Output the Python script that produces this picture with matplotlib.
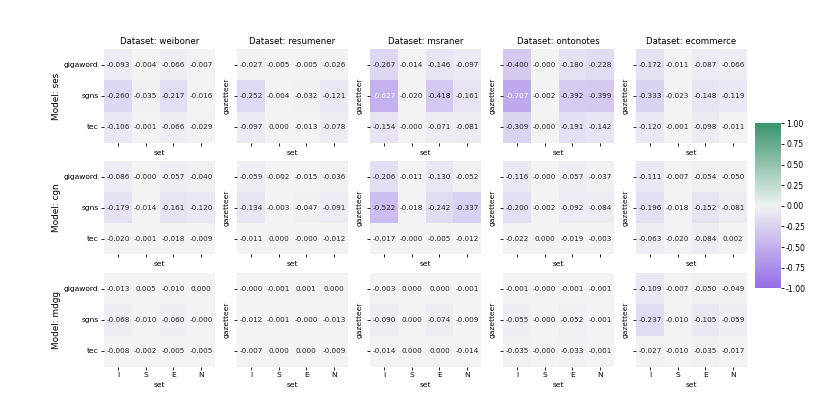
import numpy as np
import matplotlib
matplotlib.use('Agg')
import matplotlib.pyplot as plt
import seaborn as sns

models = ['ses', 'cgn', 'mdgg']
datasets = ['weiboner', 'resumener', 'msraner', 'ontonotes', 'ecommerce']
gazetteers = ['gigaword', 'sgns', 'tec']
sets = ['I', 'S', 'E', 'N']

# one 3x4 block per (model, dataset): rows = gazetteer, cols = set
ses_vals = {
    'weiboner': [[-0.093, -0.004, -0.066, -0.007], [-0.260, -0.035, -0.217, -0.016], [-0.106, -0.001, -0.066, -0.029]],
    'resumener': [[-0.027, -0.005, -0.005, -0.026], [-0.252, -0.004, -0.032, -0.121], [-0.097, 0.000, -0.013, -0.078]],
    'msraner': [[-0.267, -0.014, -0.146, -0.097], [-0.627, -0.020, -0.418, -0.161], [-0.154, -0.0, -0.071, -0.081]],
    'ontonotes': [[-0.400, -0.0, -0.180, -0.228], [-0.707, -0.002, -0.392, -0.399], [-0.309, -0.0, -0.191, -0.142]],
    'ecommerce': [[-0.172, -0.011, -0.087, -0.066], [-0.333, -0.023, -0.148, -0.119], [-0.120, -0.001, -0.098, -0.011]],
}
cgn_vals = {
    'weiboner': [[-0.086, -0.0, -0.057, -0.040], [-0.179, -0.014, -0.161, -0.120], [-0.020, -0.001, -0.018, -0.009]],
    'resumener': [[-0.059, -0.002, -0.015, -0.036], [-0.134, -0.003, -0.047, -0.091], [-0.011, 0.000, -0.0, -0.012]],
    'msraner': [[-0.206, -0.011, -0.130, -0.052], [-0.522, -0.018, -0.242, -0.337], [-0.017, -0.0, -0.005, -0.012]],
    'ontonotes': [[-0.116, -0.0, -0.057, -0.037], [-0.200, -0.002, -0.092, -0.084], [-0.022, 0.000, -0.019, -0.003]],
    'ecommerce': [[-0.111, -0.007, -0.054, -0.050], [-0.196, -0.018, -0.152, -0.081], [-0.063, -0.020, -0.084, 0.002]],
}
mdgg_vals = {
    'weiboner': [[-0.013, 0.005, -0.010, 0.000], [-0.068, -0.010, -0.060, -0.0], [-0.008, -0.002, -0.005, -0.005]],
    'resumener': [[-0.0, -0.001, 0.001, 0.000], [-0.012, -0.001, -0.0, -0.013], [-0.007, 0.000, 0.000, -0.009]],
    'msraner': [[-0.003, 0.000, 0.000, -0.001], [-0.090, 0.000, -0.074, -0.009], [-0.014, 0.000, 0.000, -0.014]],
    'ontonotes': [[-0.001, -0.0, -0.001, -0.001], [-0.055, -0.0, -0.052, -0.001], [-0.035, -0.0, -0.033, -0.001]],
    'ecommerce': [[-0.109, -0.007, -0.050, -0.049], [-0.237, -0.010, -0.105, -0.059], [-0.027, -0.010, -0.035, -0.017]],
}
all_vals = {'ses': ses_vals, 'cgn': cgn_vals, 'mdgg': mdgg_vals}

cmap = sns.diverging_palette(275, 150, s=80, l=55, as_cmap=True)

W, H = 830, 412
fig = plt.figure(figsize=(W / 100, H / 100), dpi=100)

lefts = [104, 237, 370, 503, 636]
tops = [49.3, 161.0, 273.3]
pw, ph = 111, 93.4

tick_fs = 5.4
for i, m in enumerate(models):
    for j, d in enumerate(datasets):
        ax = fig.add_axes([lefts[j] / W, 1 - (tops[i] + ph) / H, pw / W, ph / H])
        sns.heatmap(np.array(all_vals[m][d]), ax=ax, cmap=cmap, vmin=-1, vmax=1, center=0,
                    annot=True, fmt='.3f', annot_kws={'size': 5.2}, cbar=False,
                    xticklabels=sets, yticklabels=gazetteers, alpha=0.8)
        ax.tick_params(length=2.5, width=0.6, labelsize=tick_fs, pad=1.5)
        if j == 0:
            ax.set_yticklabels(gazetteers, rotation=0)
            ax.set_ylabel('Model: ' + m, fontsize=6.4, labelpad=2)
        else:
            ax.set_yticklabels([])
            ax.set_ylabel('gazetteer', fontsize=tick_fs, labelpad=1)
        if i < 2:
            ax.set_xticklabels([])
            ax.set_xlabel('set', fontsize=tick_fs, labelpad=1)
        else:
            ax.set_xticklabels(sets, rotation=0)
            ax.set_xlabel('set', fontsize=tick_fs, labelpad=2.5)
        if i == 0:
            ax.set_title('Dataset: ' + d, fontsize=6.2, pad=3.5)

cax = fig.add_axes([755 / W, 1 - 288.3 / H, 25.5 / W, 165 / H])
sm = matplotlib.cm.ScalarMappable(norm=matplotlib.colors.Normalize(-1, 1), cmap=cmap)
cb = fig.colorbar(sm, cax=cax)
cb.outline.set_linewidth(0)
cb.set_ticks([-1, -0.75, -0.5, -0.25, 0, 0.25, 0.5, 0.75, 1])
cb.ax.yaxis.set_major_formatter(matplotlib.ticker.FormatStrFormatter('%.2f'))
cb.ax.tick_params(labelsize=5.6, length=2.5, width=0.6, pad=1.5)

fig.savefig('out.png', dpi=100)
